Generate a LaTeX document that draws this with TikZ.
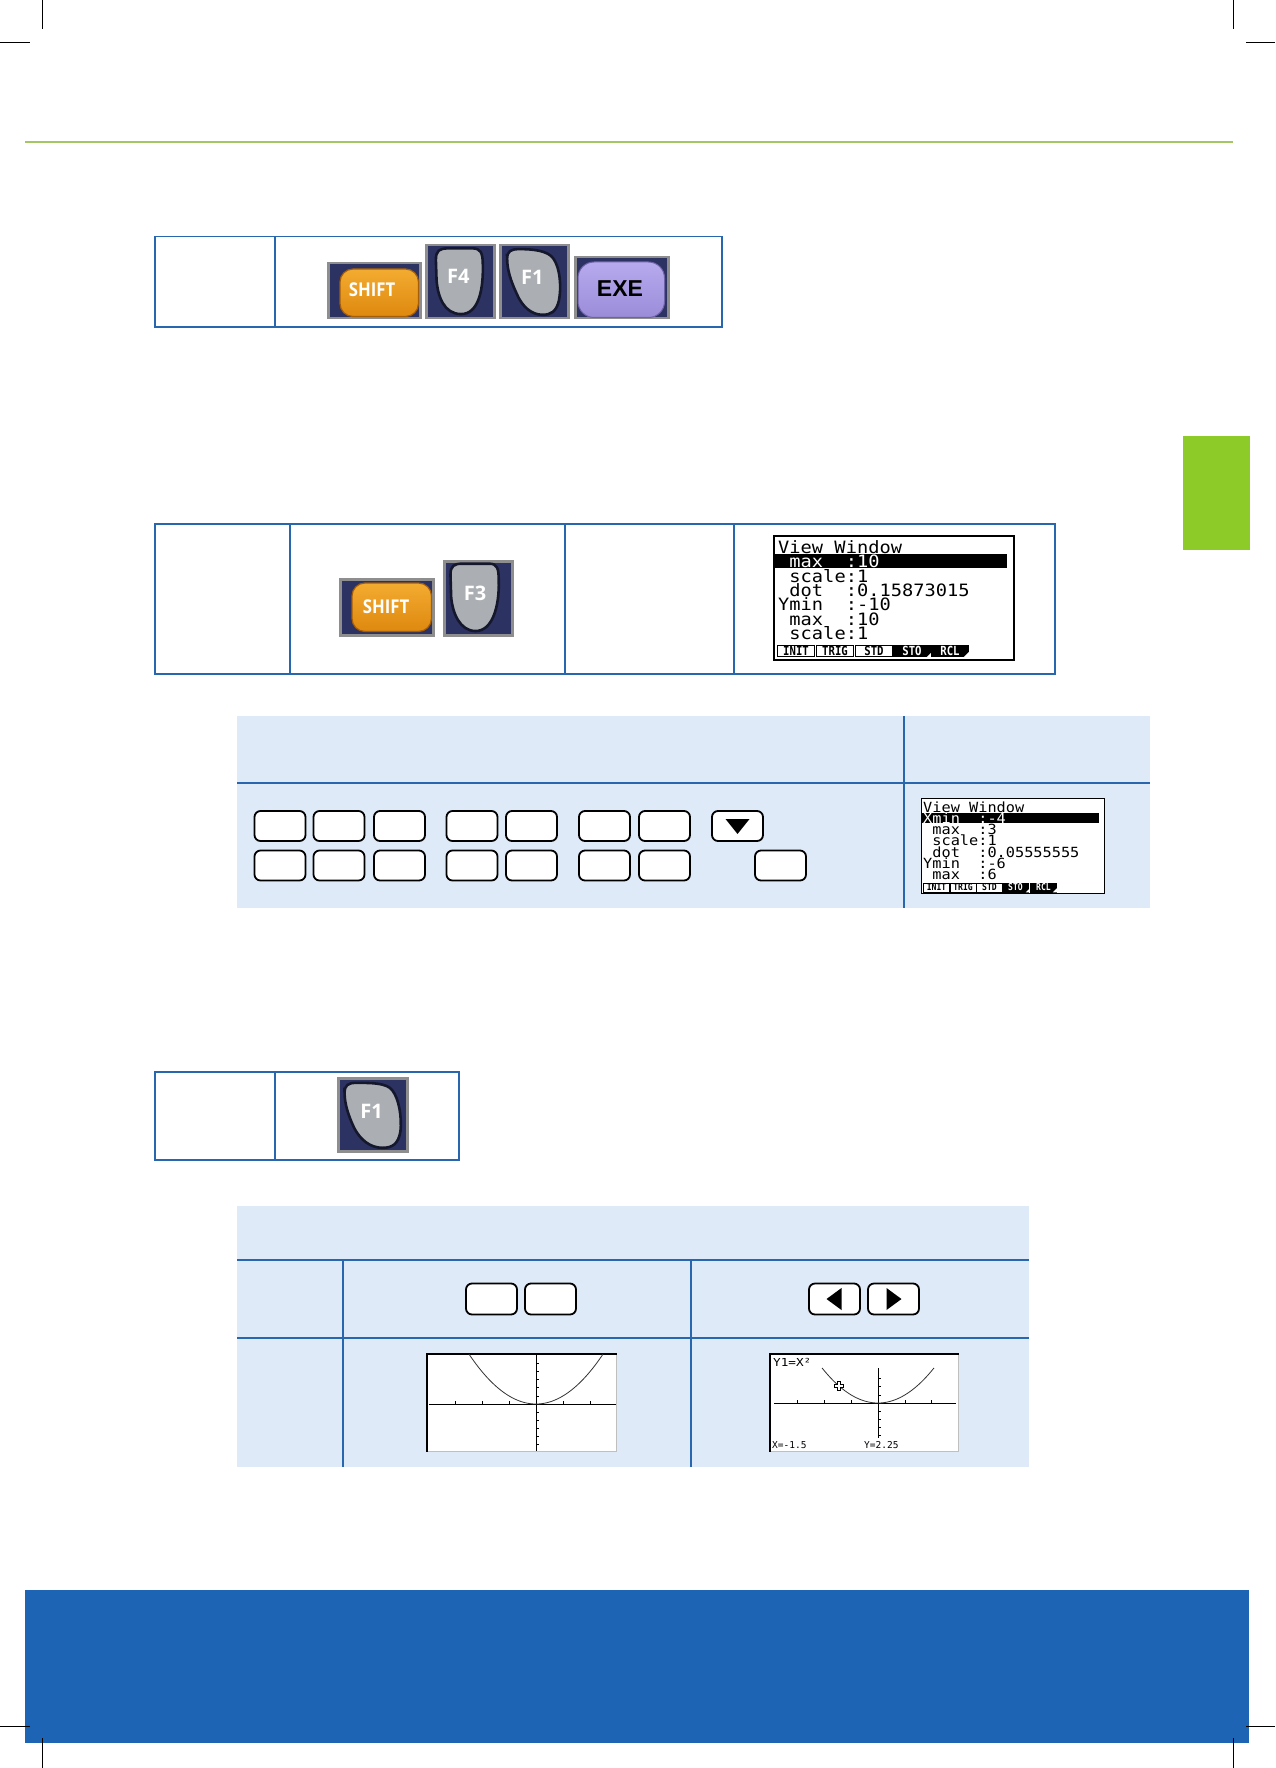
\documentclass[tikz,border=0pt]{standalone}
\usepackage{fontspec}
\setmainfont{Open Sans}
\newfontfamily\lcdfont{DejaVu Sans Mono}
\newfontfamily\keysans{Open Sans}
\newfontfamily\exesans{Liberation Sans}
\usetikzlibrary{calc}
\definecolor{tblue}{HTML}{2866AE}
\definecolor{lightfill}{HTML}{DEEAF7}
\definecolor{greenline}{HTML}{A4C764}
\definecolor{greentab}{HTML}{8DCC28}
\definecolor{footblue}{HTML}{1D64B4}
\definecolor{navy}{HTML}{2C3262}
\definecolor{bggrey}{HTML}{8E8E8E}
\definecolor{keygrey}{HTML}{ABAFB3}
\definecolor{keyrim}{HTML}{15182C}
\definecolor{orangetop}{HTML}{F3AC30}
\definecolor{orangebot}{HTML}{DE880F}
\definecolor{orangerim}{HTML}{A55D08}
\definecolor{lavtop}{HTML}{B7AAEE}
\definecolor{lavbot}{HTML}{9B8CD9}
\definecolor{lavrim}{HTML}{6E62A8}
\newcommand{\hsq}[2]{\scalebox{#1}[1]{#2}}
\begin{document}
\begin{tikzpicture}[x=1pt,y=-1pt,
  cell/.style={draw=tblue, line width=1.5pt, inner sep=0pt, anchor=north west},
  bluefill/.style={fill=lightfill, inner sep=0pt, anchor=north west},
  tline/.style={draw=tblue, line width=1.8pt},
  cropmark/.style={draw=black, line width=0.8pt},
  keybg/.style={fill=navy, draw=bggrey, line width=2.5pt, inner sep=0pt, anchor=north west},
  fshape/.style={fill=keygrey, draw=keyrim, line width=2.6pt},
  flabel/.style={text=white, font=\keysans\bfseries\fontsize{20}{20}\selectfont, inner sep=0pt},
  shiftlabel/.style={text=white, font=\keysans\bfseries\fontsize{19}{19}\selectfont, inner sep=0pt},
  exelabel/.style={text=black, font=\exesans\bfseries\fontsize{23}{23}\selectfont, inner sep=0pt},
  blankkey/.style={draw=black, fill=white, line width=1.8pt, rounded corners=6pt, minimum width=51pt, minimum height=30pt, inner sep=0pt},
  screen/.style={draw=black, line width=1.6pt, fill=white, inner sep=0pt, anchor=north west},
  gscreen/.style={draw=black!25, line width=0.8pt, fill=white, inner sep=0pt, anchor=north west},
  lcdA/.style={font=\lcdfont\fontsize{17}{17}\selectfont, inner sep=0pt, anchor=base west},
  lcdB/.style={font=\lcdfont\fontsize{14}{14}\selectfont, inner sep=0pt, anchor=base west},
  lcdS/.style={font=\lcdfont\fontsize{11}{11}\selectfont, inner sep=0pt, anchor=base west},
  mtabA/.style={draw=black, line width=0.9pt, fill=white, inner sep=0pt, minimum height=11pt, minimum width=37pt, font=\lcdfont\bfseries\fontsize{12.5}{12.5}\selectfont},
  mtabAi/.style={mtabA, fill=black, text=white},
  mtabB/.style={draw=black, line width=0.7pt, fill=white, inner sep=0pt, minimum height=9pt, minimum width=26pt, font=\lcdfont\bfseries\fontsize{9.5}{9.5}\selectfont},
  mtabBi/.style={mtabB, fill=black, text=white},
  axis/.style={draw=black, line width=1pt},
  curve/.style={draw=black!80, line width=0.8pt}
]
\useasboundingbox (0,0) rectangle (1275,1768);

% ---------- page decorations ----------
\draw[greenline, line width=2.5pt] (25,142) -- (1233,142);
\fill[greentab] (1183,436) rectangle (1250,550);
\fill[footblue] (25,1590) rectangle (1249,1743);
\draw[cropmark] (42,0) -- (42,29);
\draw[cropmark] (0,42) -- (30,42);
\draw[cropmark] (1233,0) -- (1233,29);
\draw[cropmark] (1246,42) -- (1275,42);
\draw[cropmark] (0,1726) -- (30,1726);
\draw[cropmark] (1246,1726) -- (1275,1726);
\draw[cropmark] (42,1738) -- (42,1768);
\draw[cropmark] (1233,1738) -- (1233,1768);

% ---------- table 1 ----------
\node[cell, minimum width=120pt, minimum height=90pt] (t1a) at (154,236) {};
\node[cell, minimum width=447pt, minimum height=90pt] (t1b) at (274,236) {};

% SHIFT key
\node[keybg, minimum width=92pt, minimum height=55pt] (kS1) at (327,262) {};
\draw[draw=orangerim, line width=1.2pt, top color=orangetop, bottom color=orangebot, rounded corners=13pt]
  ($(kS1.north west)+(13,7)$) rectangle ($(kS1.south east)+(-3,-3)$);
\node[shiftlabel] (lS1) at ($(kS1.north west)+(45,28)$) {\hsq{0.88}{SHIFT}};

% F4 key
\node[keybg, minimum width=68pt, minimum height=73pt] (kF4) at (425,244) {};
\begin{scope}[shift={(kF4.north west)}, xscale=68, yscale=73]
  \draw[fshape] (0.16,0.22) .. controls (0.16,0.09) and (0.21,0.06) .. (0.34,0.06)
    -- (0.7,0.06) .. controls (0.81,0.06) and (0.85,0.11) .. (0.85,0.28)
    .. controls (0.86,0.62) and (0.79,0.96) .. (0.53,0.96)
    .. controls (0.28,0.96) and (0.19,0.72) .. (0.17,0.5) -- cycle;
  \node[flabel] (lF4) at (0.49,0.45) {F4};
\end{scope}

% F1 key
\node[keybg, minimum width=68pt, minimum height=73pt] (kF1) at (499,244) {};
\begin{scope}[shift={(kF1.north west)}, xscale=68, yscale=73]
  \draw[fshape] (0.12,0.2) .. controls (0.12,0.1) and (0.17,0.07) .. (0.3,0.07)
    .. controls (0.5,0.07) and (0.72,0.09) .. (0.8,0.2)
    .. controls (0.9,0.33) and (0.92,0.6) .. (0.88,0.78)
    .. controls (0.84,0.93) and (0.76,0.97) .. (0.64,0.97)
    .. controls (0.48,0.97) and (0.34,0.86) .. (0.26,0.68)
    .. controls (0.17,0.5) and (0.12,0.35) .. cycle;
  \node[flabel] (lF1) at (0.49,0.46) {F1};
\end{scope}

% EXE key
\node[keybg, minimum width=93pt, minimum height=61pt] (kE) at (574,256) {};
\draw[draw=lavrim, line width=1pt, top color=lavtop, bottom color=lavbot, rounded corners=16pt]
  ($(kE.north west)+(4,6)$) rectangle ($(kE.south east)+(-5,-2)$);
\node[exelabel] (lE) at ($(kE.north west)+(46,33)$) {EXE};

% ---------- table 2 ----------
\node[cell, minimum width=135pt, minimum height=150pt] (t2a) at (154,523) {};
\node[cell, minimum width=275pt, minimum height=150pt] (t2b) at (289,523) {};
\node[cell, minimum width=169pt, minimum height=150pt] (t2c) at (564,523) {};
\node[cell, minimum width=321pt, minimum height=150pt] (t2d) at (733,523) {};

\node[keybg, minimum width=93pt, minimum height=56pt] (kS2) at (339,578) {};
\draw[draw=orangerim, line width=1.2pt, top color=orangetop, bottom color=orangebot, rounded corners=13pt]
  ($(kS2.north west)+(13,5)$) rectangle ($(kS2.south east)+(-3,-5)$);
\node[shiftlabel] (lS2) at ($(kS2.north west)+(47,29)$) {\hsq{0.88}{SHIFT}};

\node[keybg, minimum width=68pt, minimum height=74pt] (kF3) at (443,560) {};
\begin{scope}[shift={(kF3.north west)}, xscale=68, yscale=74]
  \draw[fshape] (0.11,0.2) .. controls (0.11,0.08) and (0.16,0.05) .. (0.28,0.05)
    -- (0.68,0.05) .. controls (0.79,0.05) and (0.82,0.1) .. (0.82,0.28)
    .. controls (0.83,0.62) and (0.73,0.96) .. (0.48,0.96)
    .. controls (0.25,0.96) and (0.14,0.72) .. (0.12,0.5) -- cycle;
  \node[flabel] (lF3) at (0.47,0.45) {F3};
\end{scope}

% screen A
\node[screen, minimum width=240pt, minimum height=124pt] (sA) at (773,535) {};
\fill[black] (774,554) rectangle (1007,568);
\node[lcdA] (sA1) at (778,553) {\hsq{1.1}{View~Window}};
\node[lcdA, text=white] (sA2) at (778,567) {\hsq{1.1}{~max~~:10}};
\node[lcdA] (sA3) at (778,582) {\hsq{1.1}{~scale:1}};
\node[lcdA] (sA4) at (778,596) {\hsq{1.1}{~dot~~:0.15873015}};
\node[lcdA] (sA5) at (778,610.5) {\hsq{1.1}{Ymin~~:-10}};
\node[lcdA] (sA6) at (778,625) {\hsq{1.1}{~max~~:10}};
\node[lcdA] (sA7) at (778,639) {\hsq{1.1}{~scale:1}};
\node[mtabA] (mA1) at (796,651) {\hsq{0.85}{INIT}};
\node[mtabA] (mA2) at (835,651) {\hsq{0.85}{TRIG}};
\node[mtabA] (mA3) at (874,651) {\hsq{0.85}{STD}};
\node[mtabAi] (mA4) at (912,651) {\hsq{0.85}{STO}};
\node[mtabAi] (mA5) at (950,651) {\hsq{0.85}{RCL}};
\fill[white] (mA4.south east) -- ++(0,-4) -- ++(-4,4) -- cycle;
\fill[white] (mA5.south east) -- ++(0,-5) -- ++(-5,5) -- cycle;

% ---------- table 3 ----------
\node[bluefill, minimum width=913pt, minimum height=192pt] (t3) at (237,716) {};
\draw[tline] (237,783) -- (1150,783);
\draw[tline] (904,716) -- (904,908);

\node[blankkey] (r1k1) at (280,826) {};
\node[blankkey] (r1k2) at (339,826) {};
\node[blankkey] (r1k3) at (399.5,826) {};
\node[blankkey] (r1k4) at (472,826) {};
\node[blankkey] (r1k5) at (531.5,826) {};
\node[blankkey] (r1k6) at (604.5,826) {};
\node[blankkey] (r1k7) at (664.5,826) {};
\node[blankkey] (r1k8) at (737.5,826) {};
\fill[black] ($(r1k8.center)+(-12,-7)$) -- ($(r1k8.center)+(12,-7)$) -- ($(r1k8.center)+(0,8)$) -- cycle;
\node[blankkey] (r2k1) at (280,865.5) {};
\node[blankkey] (r2k2) at (339,865.5) {};
\node[blankkey] (r2k3) at (399.5,865.5) {};
\node[blankkey] (r2k4) at (472,865.5) {};
\node[blankkey] (r2k5) at (531.5,865.5) {};
\node[blankkey] (r2k6) at (604.5,865.5) {};
\node[blankkey] (r2k7) at (664.5,865.5) {};
\node[blankkey] (r2k8) at (780.5,865.5) {};

% screen B
\node[screen, line width=1.4pt, minimum width=183pt, minimum height=95pt] (sB) at (921,798) {};
\fill[black] (922,813) rectangle (1099,823);
\node[lcdB] (sB1) at (923,812) {\hsq{1.09}{View~Window}};
\node[lcdB, text=white] (sB2) at (923,823) {\hsq{1.09}{Xmin~~:-4}};
\node[lcdB] (sB3) at (923,834) {\hsq{1.09}{~max~~:3}};
\node[lcdB] (sB4) at (923,845) {\hsq{1.09}{~scale:1}};
\node[lcdB] (sB5) at (923,857) {\hsq{1.09}{~dot~~:0.05555555}};
\node[lcdB] (sB6) at (923,868) {\hsq{1.09}{Ymin~~:-6}};
\node[lcdB] (sB7) at (923,879) {\hsq{1.09}{~max~~:6}};
\node[mtabB] (mB1) at (936.5,887.5) {\hsq{0.85}{INIT}};
\node[mtabB] (mB2) at (963,887.5) {\hsq{0.85}{TRIG}};
\node[mtabB] (mB3) at (989.5,887.5) {\hsq{0.85}{STD}};
\node[mtabBi] (mB4) at (1015.5,887.5) {\hsq{0.85}{STO}};
\node[mtabBi] (mB5) at (1043.5,887.5) {\hsq{0.85}{RCL}};
\fill[white] (mB4.south east) -- ++(0,-3) -- ++(-3,3) -- cycle;
\fill[white] (mB5.south east) -- ++(0,-4) -- ++(-4,4) -- cycle;

% ---------- table 4 ----------
\node[cell, minimum width=120pt, minimum height=88pt] (t4a) at (154,1071) {};
\node[cell, minimum width=184pt, minimum height=88pt] (t4b) at (274,1071) {};
\node[keybg, minimum width=69pt, minimum height=73pt] (kF1b) at (337,1077) {};
\begin{scope}[shift={(kF1b.north west)}, xscale=69, yscale=73]
  \draw[fshape] (0.11,0.22) .. controls (0.11,0.11) and (0.16,0.08) .. (0.28,0.08)
    .. controls (0.5,0.08) and (0.72,0.08) .. (0.8,0.18)
    .. controls (0.9,0.3) and (0.94,0.55) .. (0.92,0.74)
    .. controls (0.89,0.92) and (0.8,0.97) .. (0.66,0.97)
    .. controls (0.48,0.97) and (0.34,0.86) .. (0.25,0.7)
    .. controls (0.16,0.52) and (0.11,0.36) .. cycle;
  \node[flabel] (lF1b) at (0.5,0.47) {F1};
\end{scope}

% ---------- table 5 ----------
\node[bluefill, minimum width=792pt, minimum height=261pt] (t5) at (237,1206) {};
\draw[tline] (237,1260) -- (1029,1260);
\draw[tline] (237,1338) -- (1029,1338);
\draw[tline] (343,1260) -- (343,1467);
\draw[tline] (691,1260) -- (691,1467);

\node[blankkey, minimum height=31pt] (k5a) at (491.5,1299) {};
\node[blankkey, minimum height=31pt] (k5b) at (550.5,1299) {};
\node[blankkey, minimum height=31pt] (k5l) at (834.5,1299) {};
\node[blankkey, minimum height=31pt] (k5r) at (893.5,1299) {};
\fill[black] ($(k5l.center)+(7,-11)$) -- ($(k5l.center)+(7,11)$) -- ($(k5l.center)+(-8,0)$) -- cycle;
\fill[black] ($(k5r.center)+(-7,-11)$) -- ($(k5r.center)+(-7,11)$) -- ($(k5r.center)+(8,0)$) -- cycle;

% graph screen C
\node[gscreen, minimum width=189pt, minimum height=97pt] (gC) at (427,1354) {};
\draw[black, line width=1.3pt] (gC.south west) -- (gC.north west) -- (gC.north east);
\draw[axis] (429,1404) -- (616,1404);
\draw[axis] (536,1354) -- (536,1451);
\foreach \k in {-3,-2,-1,1,2} { \draw[black, line width=0.8pt] ({536+27*\k},1404) -- ({536+27*\k},1401); }
\foreach \k in {-5,-4,-3,-2,-1,1,2,3,4,5} { \draw[black, line width=0.8pt] (536,{1404+8.1*\k}) -- (538.5,{1404+8.1*\k}); }
\draw[curve] plot[domain=-2.48:2.48, samples=80, smooth] ({536+27*\x},{1404-8.1*\x*\x});

% graph screen D
\node[gscreen, minimum width=188pt, minimum height=97pt] (gD) at (770,1354) {};
\draw[black, line width=1.3pt] (gD.south west) -- (gD.north west) -- (gD.north east);
\draw[axis] (774,1403) -- (956,1403);
\draw[axis] (878,1368) -- (878,1438);
\foreach \k in {-3,-2,-1,1,2} { \draw[black, line width=0.8pt] ({878+26.9*\k},1403) -- ({878+26.9*\k},1400); }
\foreach \k in {-3,-2,-1,1,2,3,4} { \draw[black, line width=0.8pt] (878,{1403+8.1*\k}) -- (880.5,{1403+8.1*\k}); }
\draw[curve] plot[domain=-2.08:2.08, samples=80, smooth] ({878+26.9*\x},{1403-8.1*\x*\x});
\draw[black, line width=0.8pt, fill=white] (839,1386) +(-1.5,-4.5) -- +(1.5,-4.5) -- +(1.5,-1.5) -- +(4.5,-1.5) -- +(4.5,1.5) -- +(1.5,1.5) -- +(1.5,4.5) -- +(-1.5,4.5) -- +(-1.5,1.5) -- +(-4.5,1.5) -- +(-4.5,-1.5) -- +(-1.5,-1.5) -- cycle;
\node[lcdS] (gD1) at (773,1366.5) {\hsq{1.15}{Y1=X²}};
\node[lcdS, font=\lcdfont\fontsize{9.5}{9.5}\selectfont] (gD2) at (772,1448) {X=-1.5};
\node[lcdS, font=\lcdfont\fontsize{9.5}{9.5}\selectfont] (gD3) at (864,1448) {Y=2.25};
\end{tikzpicture}
\end{document}
